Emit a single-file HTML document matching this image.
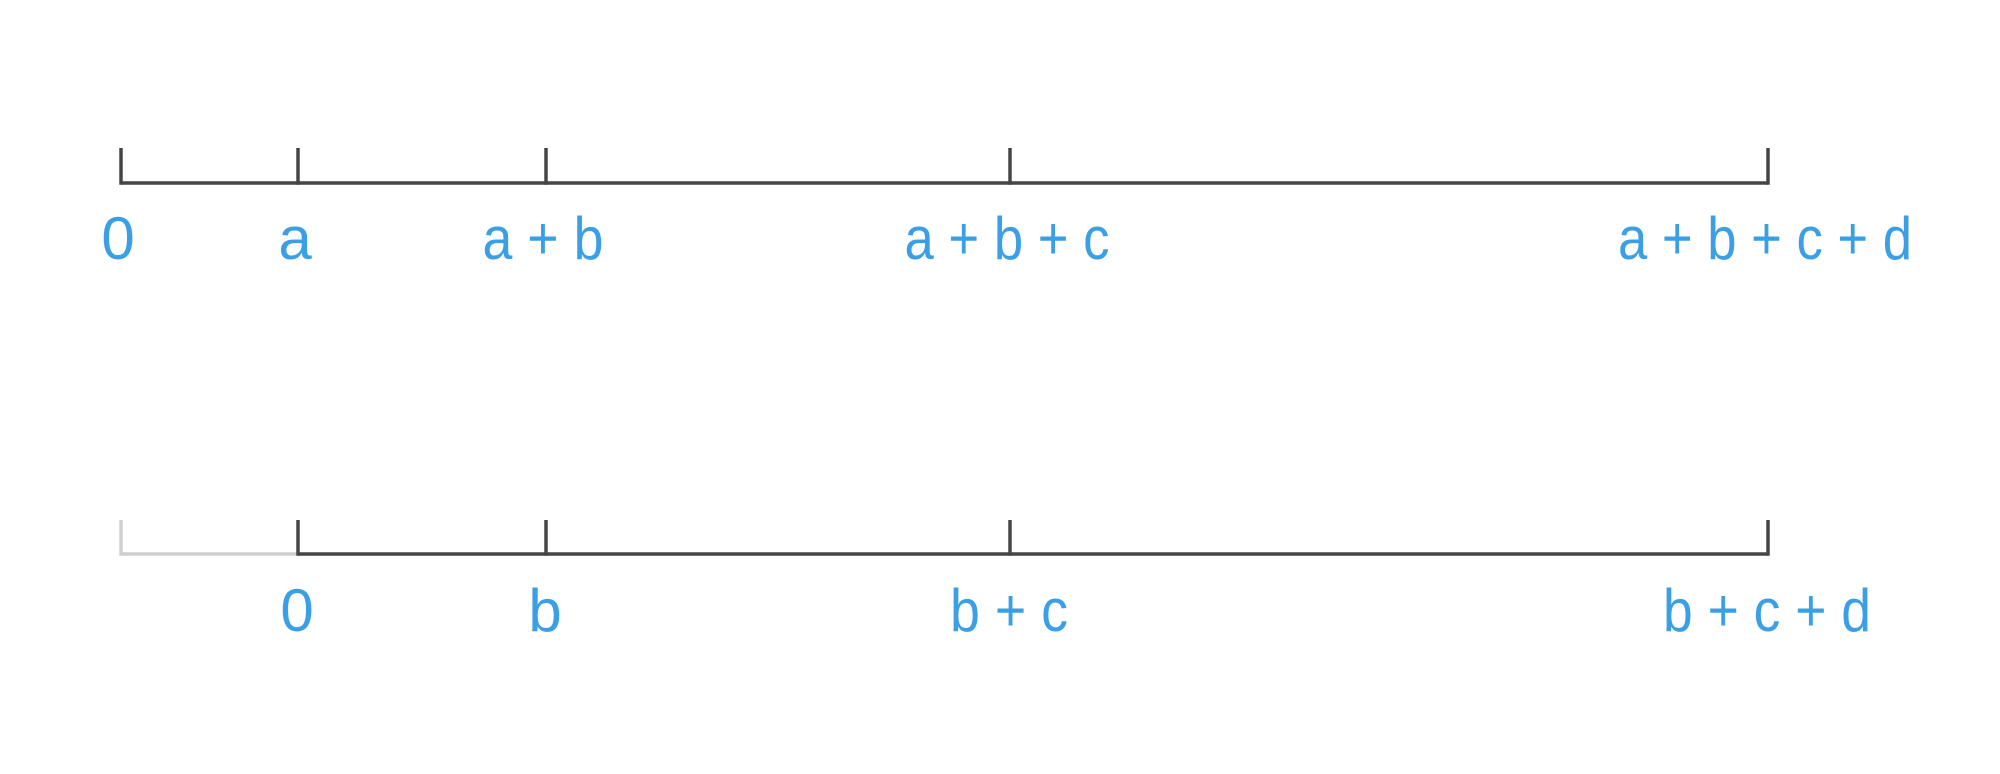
<!DOCTYPE html>
<html><head><meta charset="utf-8"><style>
html,body{margin:0;padding:0;background:#fff;}
svg{display:block;}
text{font-family:"Liberation Sans",sans-serif;fill:#3b9fe6;font-size:60px;text-anchor:middle;}
</style></head><body>
<svg id="chart" width="2000" height="774" viewBox="0 0 2000 774"></svg>
<script>
const segmentNames = ["a", "b", "c", "d"];
const segmentLengths = [177, 248, 464, 758];
const topTickLabels = ["0", "a", "a + b", "a + b + c", "a + b + c + d"];
const bottomTickLabels = ["0", "b", "b + c", "b + c + d"];
const topLabelWidths = [0, 0, 121, 205, 294];
const bottomLabelWidths = [0, 0, 118, 208];

const NS = "http://www.w3.org/2000/svg";
const svg = document.getElementById("chart");
const x0 = 121;
function xScale(v) { return x0 + v; }
function mk(tag, attrs) {
  const e = document.createElementNS(NS, tag);
  for (const k in attrs) e.setAttribute(k, attrs[k]);
  svg.appendChild(e);
  return e;
}
const cum = [0];
segmentLengths.forEach((l, i) => cum.push(cum[i] + l));

const SW = 3.5;
// Top axis
const topY = 183, tickTop = 148, topLabelY = 259;
let ln = mk("line", {x1: xScale(0), y1: topY, x2: xScale(cum[cum.length - 1]), y2: topY, stroke: "#454545", "stroke-width": SW});


cum.forEach((v, i) => {
  const t = mk("line", {x1: xScale(v), y1: tickTop, x2: xScale(v), y2: topY + SW / 2, stroke: "#454545", "stroke-width": SW});
  
  
  const lb = mk("text", {x: xScale(v) - 3, y: topLabelY});
  if (topLabelWidths[i]) { lb.setAttribute("textLength", topLabelWidths[i]); lb.setAttribute("lengthAdjust", "spacingAndGlyphs"); }
  lb.textContent = topTickLabels[i];
  
  
});

// Bottom axis
const botY = 554, botTickTop = 520, botLabelY = 631;
let g = mk("polyline", {points: `${xScale(0)},${botTickTop} ${xScale(0)},${botY} ${xScale(cum[1])},${botY}`, fill: "none", stroke: "#cfcfcf", "stroke-width": SW});


let ln2 = mk("line", {x1: xScale(cum[1]), y1: botY, x2: xScale(cum[cum.length - 1]), y2: botY, stroke: "#454545", "stroke-width": SW});


cum.slice(1).forEach((v, i) => {
  const t = mk("line", {x1: xScale(v), y1: botTickTop, x2: xScale(v), y2: botY + SW / 2, stroke: "#454545", "stroke-width": SW});
  
  
  const lb = mk("text", {x: xScale(v) - 1, y: botLabelY});
  if (bottomLabelWidths[i]) { lb.setAttribute("textLength", bottomLabelWidths[i]); lb.setAttribute("lengthAdjust", "spacingAndGlyphs"); }
  lb.textContent = bottomTickLabels[i];
  
  
});
</script>
</body></html>
